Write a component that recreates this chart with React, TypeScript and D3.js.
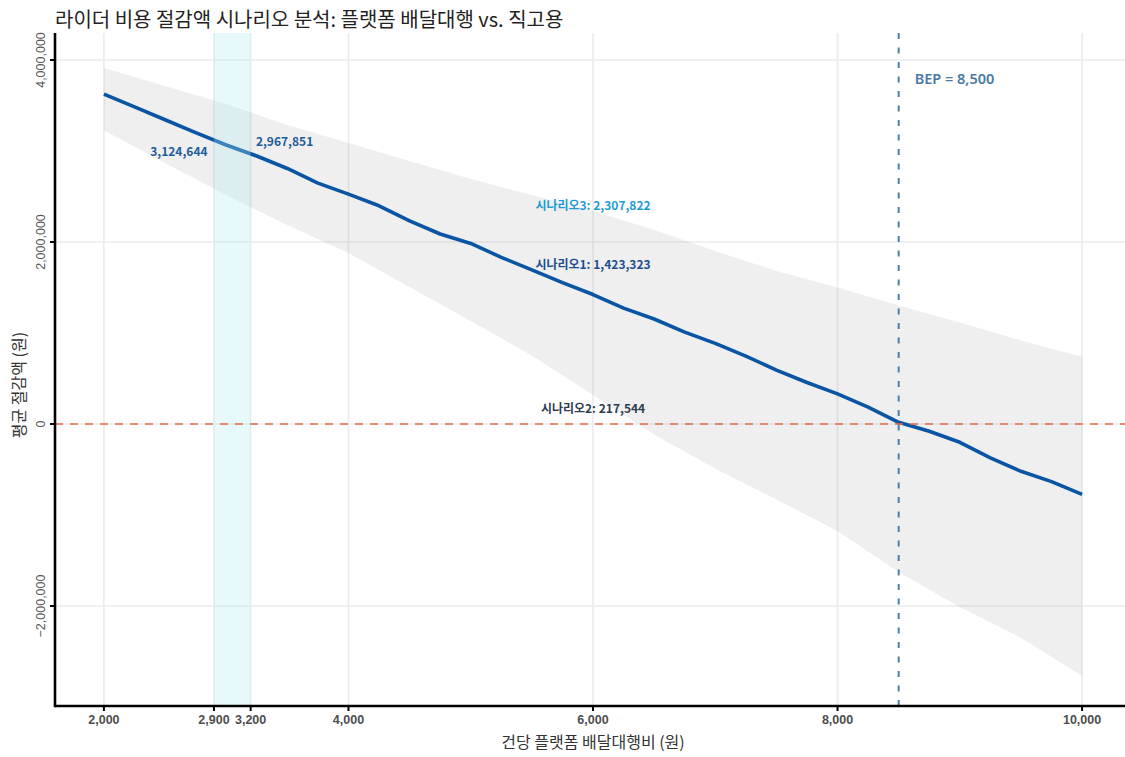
import React from "react";
import * as d3 from "d3";

// ---- data ----
const lineFees = [2000, 2250, 2500, 2750, 3000, 3250, 3500, 3750, 4000, 4250, 4500, 4750, 5000, 5250, 5500, 5750, 6000, 6250, 6500, 6750, 7000, 7250, 7500, 7750, 8000, 8250, 8500, 8750, 9000, 9250, 9500, 9750, 10000];
const meanSavings = [3626000, 3485000, 3344000, 3203000, 3066000, 2945000, 2808000, 2647000, 2526000, 2398000, 2233000, 2088000, 1984000, 1832000, 1693000, 1554000, 1423000, 1273000, 1154000, 1010000, 886000, 746000, 593000, 456000, 331000, 185000, 19000, -79000, -201000, -373000, -520000, -633000, -773000];

const bandFees = [2000, 2500, 3000, 3500, 4000, 4500, 5000, 5500, 6000, 6500, 7000, 7500, 8000, 8500, 9000, 9500, 10000];
const bandUpper = [3912000, 3714000, 3516000, 3286000, 3088000, 2890000, 2692000, 2516000, 2341000, 2132000, 1901000, 1681000, 1500000, 1302000, 1115000, 918000, 740000];
const bandLower = [3225000, 2868000, 2516000, 2187000, 1879000, 1505000, 1132000, 753000, 319000, -115000, -491000, -830000, -1176000, -1626000, -2010000, -2350000, -2769000];

const xTicks = [2000, 2900, 3200, 4000, 6000, 8000, 10000];
const yTicks = [-2000000, 0, 2000000, 4000000];
const highlightRange = [2900, 3200];
const bepFee = 8500;

const annoTexts = ["3,124,644", "2,967,851", "시나리오3: 2,307,822", "시나리오1: 1,423,323", "시나리오2: 217,544"];
const annoX = [2848, 3243, 6000, 6000, 6000];
const annoY = [2986000, 3104000, 2396000, 1747000, 172000];
const annoAnchor = ["end", "start", "middle", "middle", "middle"];
const annoColor = ["#1f5c9c", "#1f5c9c", "#1e9bd6", "#1d4e8f", "#2e3d52"];

const title = "라이더 비용 절감액 시나리오 분석: 플랫폼 배달대행 vs. 직고용";
const xTitle = "건당 플랫폼 배달대행비 (원)";
const yTitle = "평균 절감액 (원)";

const W = 1125;
const H = 757;
const left = 55, right = 1131, top = 33, bottom = 706;

export default function App() {
  const x = d3.scaleLinear().domain([1600, 10400]).range([left, right]);
  const y = d3.scaleLinear().domain([-3099000, 4297000]).range([bottom, top]);
  const fmt = d3.format(",");

  const line = d3.line<number>().x((_, i) => x(lineFees[i])).y((d) => y(d));
  const area = d3
    .area<number>()
    .x((_, i) => x(bandFees[i]))
    .y0((_, i) => y(bandLower[i]))
    .y1((d) => y(d));

  const korean = "'Noto Sans CJK KR', 'Noto Sans', sans-serif";
  const latin = "'Liberation Sans', Arial, sans-serif";

  return (
    <svg
      width={W}
      height={H}
      style={{ position: "absolute", left: 0, top: 0, background: "#fff" }}
    >
      <defs>
        <clipPath id="panel">
          <rect x={left} y={top} width={W - left} height={bottom - top} />
        </clipPath>
      </defs>
      {/* title */}
      <text x={55} y={27} fontFamily={korean} fontSize={20} fill="#222">
        {title}
      </text>

      <g clipPath="url(#panel)">
        {/* grid */}
        {xTicks.map((t) => (
          <line key={"gx" + t} x1={x(t)} x2={x(t)} y1={top} y2={bottom} stroke="#ebebeb" strokeWidth={1.6} />
        ))}
        {yTicks.map((t) => (
          <line key={"gy" + t} x1={left} x2={W} y1={y(t)} y2={y(t)} stroke="#ebebeb" strokeWidth={1.6} />
        ))}

        {/* ribbon */}
        <path d={area(bandUpper) || ""} fill="#8c8c8c" fillOpacity={0.14} />

        {/* mean line */}
        <path d={line(meanSavings) || ""} fill="none" stroke="#0a55a3" strokeWidth={3.6} strokeLinejoin="round" />

        {/* highlight */}
        <rect
          x={x(highlightRange[0])}
          y={top}
          width={x(highlightRange[1]) - x(highlightRange[0])}
          height={bottom - top}
          fill="#b2ebf2"
          fillOpacity={0.3}
        />

        {/* zero line */}
        <line x1={left} x2={W} y1={y(0)} y2={y(0)} stroke="#e8684a" strokeWidth={1.5} strokeDasharray="8,7" />

        {/* BEP line */}
        <line x1={x(bepFee)} x2={x(bepFee)} y1={top} y2={bottom} stroke="#4a7fae" strokeWidth={2} strokeDasharray="6,8.5" />
      </g>

      {/* BEP label */}
      <text x={x(bepFee) + 16} y={y(3790000)} dy="0.35em" fontFamily="'Noto Sans', sans-serif" fontSize={14.5} fontWeight={600} fill="#4a79a6">
        {"BEP = " + fmt(bepFee)}
      </text>

      {/* annotations */}
      {annoTexts.map((t, i) => (
        <text
          key={"a" + i}
          x={x(annoX[i])}
          y={y(annoY[i])}
          dy="0.35em"
          textAnchor={annoAnchor[i]}
          fontFamily={korean}
          fontSize={12}
          fontWeight={700}
          fill={annoColor[i]}
        >
          {t}
        </text>
      ))}

      {/* axes */}
      <line x1={left} x2={W} y1={bottom} y2={bottom} stroke="#000" strokeWidth={2.6} />
      <line x1={left} x2={left} y1={top} y2={bottom + 1.3} stroke="#000" strokeWidth={2.6} />
      {xTicks.map((t) => (
        <g key={"tx" + t}>
          <line x1={x(t)} x2={x(t)} y1={bottom} y2={bottom + 5} stroke="#000" strokeWidth={2} />
          <text x={x(t)} y={bottom + 18} textAnchor="middle" fontFamily={latin} fontSize={12.5} fontWeight={700} fill="#4d4d4d">
            {fmt(t)}
          </text>
        </g>
      ))}
      {yTicks.map((t) => (
        <g key={"ty" + t}>
          <line x1={left - 5} x2={left} y1={y(t)} y2={y(t)} stroke="#000" strokeWidth={2} />
          <text
            transform={`translate(${left - 10},${y(t)}) rotate(-90)`}
            textAnchor="middle"
            fontFamily={latin}
            fontSize={12.5}
            fill="#555"
          >
            {fmt(t)}
          </text>
        </g>
      ))}

      {/* axis titles */}
      <text x={(left + right) / 2} y={748} textAnchor="middle" fontFamily={korean} fontSize={16} fill="#333">
        {xTitle}
      </text>
      <text
        transform={`translate(25,${385}) rotate(-90)`}
        textAnchor="middle"
        fontFamily={korean}
        fontSize={16}
        fill="#333"
      >
        {yTitle}
      </text>
    </svg>
  );
}
